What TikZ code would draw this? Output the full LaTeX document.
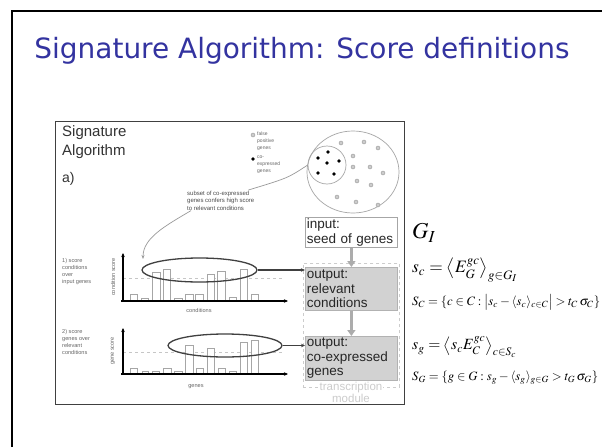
\documentclass[tikz,border=0pt]{standalone}
\usepackage{mathptmx}
\usepackage[no-math]{fontspec}
\setmainfont{Liberation Sans}
\newfontfamily\titlefont{DejaVu Sans}
\usetikzlibrary{arrows.meta,shapes.geometric}
\definecolor{titleblue}{RGB}{51,51,160}
\tikzset{
  bar/.style={draw=gray!70, fill=white, line width=0.7pt},
  axisline/.style={black, line width=1.2pt, -{Stealth[length=4pt,width=3.5pt]}},
  thresh/.style={gray!45, dashed, line width=0.7pt},
  scoreell/.style={ellipse, draw=black!75, line width=1.3pt, inner sep=0},
  conn/.style={black!75, line width=1.1pt, -{Stealth[length=4pt,width=3.5pt]}},
  bigarrow/.style={gray!65, line width=2.5pt, -{Triangle[length=6pt,width=8pt]}},
  flowbox/.style={line width=0.8pt, anchor=north west, inner sep=1.5pt,
    text width=89pt, align=left, font=\fontsize{13.5}{14.5}\selectfont, text=black!85},
  outbox/.style={flowbox, draw=gray!60, fill=gray!35},
  tinylbl/.style={font=\fontsize{5.6}{7.2}\selectfont, text=black!60, align=left, inner sep=0},
  blackdot/.style={circle, fill=black, minimum size=3.6pt, inner sep=0},
  graydot/.style={circle, draw=gray!80, fill=gray!40, minimum size=4pt, inner sep=0, line width=0.4pt},
  formula/.style={anchor=west, inner sep=0}
}
\begin{document}
\begin{tikzpicture}[x=1pt,y=-1pt]
\useasboundingbox (0,0) rectangle (602,447);
\fill[white] (0,0) rectangle (602,447);
% slide border
\draw[line width=2.6pt, black] (12,447) -- (12,11) -- (602,11);
% title
\node[text=titleblue, inner sep=0] (title) at (302,51) {\resizebox{535pt}{!}{\titlefont Signature Algorithm: Score definitions}};
% figure frame
\node[draw=black!75, line width=1pt, minimum width=349pt, minimum height=283pt, inner sep=0, anchor=north west] (frame) at (55,121) {};
\node[anchor=north west, inner sep=0, align=left, font=\fontsize{15}{19}\selectfont, text=black!80] (sigtitle) at (62,125) {Signature\\Algorithm};
\node[anchor=north west, inner sep=0, font=\fontsize{14}{16}\selectfont, text=black!80] (alabel) at (62,172) {a)};
% legend
\node[graydot] (lfp) at (253,135) {};
\node[tinylbl, font=\fontsize{5}{7}\selectfont, anchor=north west] (lfpt) at (257,132) {false\\positive\\genes};
\node[blackdot] (lce) at (253,159) {};
\node[tinylbl, font=\fontsize{5}{7}\selectfont, anchor=north west] (lcet) at (257,156) {co-\\expressed\\genes};
% gene pool
\node[ellipse, draw=gray!70, line width=0.7pt, minimum width=92pt, minimum height=82pt, inner sep=0] (pool) at (353,172) {};
\node[circle, draw=gray!70, line width=0.7pt, minimum size=38pt, inner sep=0] (seed) at (327,165) {};
\foreach \p in {(328,152),(318,158),(327,163),(339,161),(318,173),(334,174)}
  \node[blackdot] at \p {};
\foreach \p in {(341,143),(364,142),(378,148),(353,156),(353,167),(370,167),(383,173),(357,181),(371,185),(337,197),(356,202),(378,205)}
  \node[graydot] at \p {};
% subset annotation
\node[tinylbl, font=\fontsize{6}{7.4}\selectfont, text=black!70, anchor=north west] (subset) at (187,191) {subset of co-expressed\\genes confers high score\\to relevant conditions};
\coordinate (ptip) at (143,259);
\draw[gray!80, line width=0.7pt] ([xshift=-6pt,yshift=1pt]subset.north east) .. controls (288,178) .. (seed.west);
\draw[gray!80, line width=0.7pt, -{Stealth[length=4pt,width=3pt]}] ([xshift=4pt]subset.south west) .. controls (165,226) and (143,238) .. (ptip);
% left labels
\node[tinylbl, anchor=north west] (lab1) at (62,258) {1) score\\conditions\\over\\input genes};
\node[tinylbl, anchor=north west] (lab2) at (62,329) {2) score\\genes over\\relevant\\conditions};
% condition plot
\draw[thresh] (123,278) -- (283,278);
\foreach \a/\b/\t in {130/137/294, 141/148/298, 152/160/272, 163/170/269, 174/182/298, 185/193/294, 195/203/294, 207/214/274, 217/225/271, 229/236/297, 240/247/269, 251/258/294}
  \draw[bar] (\a,301) rectangle (\b,\t);
\coordinate (c0) at (123,301);
\coordinate (cy) at (123,253);
\coordinate (cx) at (288,301);
\draw[axisline] (c0) -- (cy);
\draw[axisline] ([xshift=-2pt]c0) -- (cx);
\node[tinylbl, rotate=90] (cslab) at (113,277) {condition score};
\node[tinylbl] (cxlab) at (199,310) {conditions};
\node[scoreell, minimum width=115pt, minimum height=24pt] (ce) at (199.5,270) {};
% gene plot
\draw[thresh] (123,352) -- (283,352);
\foreach \a/\b/\t in {130/137/368, 142/148/371, 152/159/371, 163/171/368, 174/182/371, 185/193/345, 196/203/368, 207/214/348, 218/225/368, 229/236/371, 240/247/342, 251/258/340}
  \draw[bar] (\a,374) rectangle (\b,\t);
\coordinate (g0) at (123,374);
\coordinate (gy) at (123,328);
\coordinate (gx) at (288,374);
\draw[axisline] (g0) -- (gy);
\draw[axisline] ([xshift=-2pt]g0) -- (gx);
\node[tinylbl, rotate=90] (gslab) at (113,351) {gene score};
\node[tinylbl] (gxlab) at (196,387) {genes};
\node[scoreell, minimum width=114pt, minimum height=23pt] (ge) at (225,345.5) {};
% transcription module
\node[draw=gray!40, dashed, line width=0.7pt, anchor=north west, minimum width=96pt, minimum height=124pt, inner sep=0] (tmod) at (303,263) {};
\node[fill=white, text=gray!40, font=\fontsize{11.5}{11.5}\selectfont, align=center, inner sep=1pt, anchor=north] (tlab) at (351,381) {transcription\\module};
% flow boxes
\node[flowbox, draw=gray!70, fill=white, minimum height=30pt] (inbox) at (305,217) {input:\\seed of genes};
\node[outbox, minimum height=43pt] (rel) at (305,267) {output:\\relevant\\conditions};
\node[outbox, minimum height=42pt] (coex) at (305,336) {output:\\co-expressed\\genes};
\draw[bigarrow] (inbox.south) -- (rel.north);
\draw[bigarrow] (rel.south) -- (coex.north);
\draw[conn] (ce.east) -- (ce.east -| rel.west);
\draw[conn] (ge.east) -- (ge.east -| coex.west);
% formulas
\node[formula] (gi) at (412,233) {\resizebox{24pt}{!}{$G_I$}};
\node[formula] (fsc) at (412,270) {\resizebox{106pt}{!}{$s_c=\bigl\langle E_G^{gc}\bigr\rangle_{g\in G_I}$}};
\node[formula] (fSC) at (412,302) {\resizebox{188pt}{!}{$S_C=\{c\in C:\bigl|s_c-\langle s_c\rangle_{c\in C}\bigr|>t_C\,\sigma_C\}$}};
\node[formula] (fsg) at (412,347) {\resizebox{105pt}{!}{$s_g=\bigl\langle s_c E_C^{gc}\bigr\rangle_{c\in S_c}$}};
\node[formula] (fSG) at (412,378) {\resizebox{186pt}{!}{$S_G=\{g\in G:s_g-\langle s_g\rangle_{g\in G}>t_G\,\sigma_G\}$}};
\end{tikzpicture}
\end{document}
